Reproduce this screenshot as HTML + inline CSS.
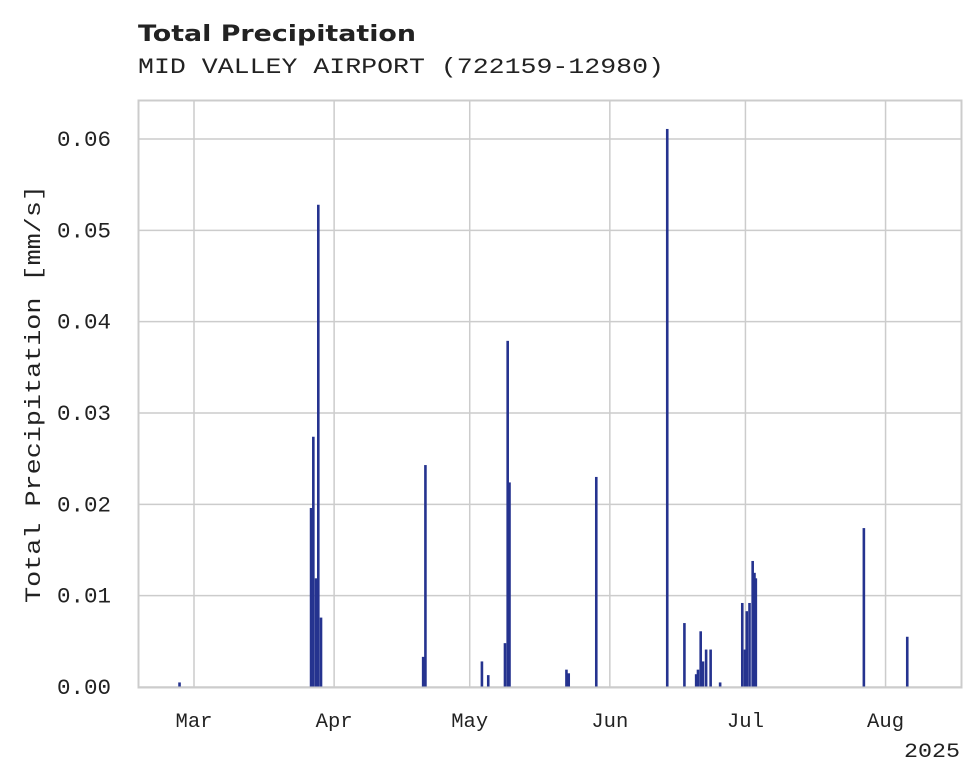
<!DOCTYPE html>
<html><head><meta charset="utf-8"><style>
html,body{margin:0;padding:0;background:#fff;}
svg{display:block;font-family:"Liberation Mono",monospace;}
</style></head><body>
<svg id="chart" width="980" height="783">
<text x="138" y="41" font-family="DejaVu Sans, sans-serif" font-weight="bold" font-size="22" fill="#222" textLength="278" lengthAdjust="spacingAndGlyphs">Total Precipitation</text>
<text x="138" y="73" font-size="22" fill="#222" textLength="526" lengthAdjust="spacingAndGlyphs">MID VALLEY AIRPORT (722159-12980)</text>
<text transform="translate(40,394) rotate(-90)" text-anchor="middle" font-size="22" fill="#222" textLength="418" lengthAdjust="spacingAndGlyphs">Total Precipitation [mm/s]</text>
<text x="960" y="757" text-anchor="end" font-size="20" fill="#222" textLength="56" lengthAdjust="spacingAndGlyphs">2025</text>
<g id="grid"></g><g id="bars"></g><g id="ticks"></g>
<rect x="138.5" y="100.5" width="823" height="587" fill="none" stroke="#ccc" stroke-width="2"/>
</svg>
<script>
const monthLabels=["Mar","Apr","May","Jun","Jul","Aug"];
const monthDays=[0,31,61,92,122,153];
const yTicks=[0,0.01,0.02,0.03,0.04,0.05,0.06];
const yTickLabels=["0.00","0.01","0.02","0.03","0.04","0.05","0.06"];
const barDays=[-3.2,25.9,26.4,27.0,27.5,28.1,50.7,51.2,63.7,65.1,68.8,69.4,69.8,82.4,82.9,89.0,104.7,108.5,111.1,111.5,112.1,112.6,113.3,114.3,116.4,121.3,121.9,122.3,122.9,123.6,124.0,124.3,148.2,157.8];
const barValues=[0.0005,0.0196,0.0274,0.0119,0.0528,0.0076,0.0033,0.0243,0.0028,0.0013,0.0048,0.0379,0.0224,0.0019,0.0015,0.0230,0.0611,0.0070,0.0014,0.0019,0.0061,0.0028,0.0041,0.0041,0.0005,0.0092,0.0041,0.0083,0.0092,0.0138,0.0125,0.0119,0.0174,0.0055];
const NS="http://www.w3.org/2000/svg";
const xs=d=>194+d*4.52;
const ys=v=>687-v*(548/0.06);
const grid=document.getElementById('grid'),bars=document.getElementById('bars'),ticks=document.getElementById('ticks');
function mk(tag,attrs,parent){const e=document.createElementNS(NS,tag);for(const k in attrs)e.setAttribute(k,attrs[k]);parent.appendChild(e);return e;}
yTicks.forEach((v,i)=>{
 const l=mk('line',{x1:139,x2:961,y1:ys(v),y2:ys(v),stroke:'#ccc','stroke-width':1.5},grid);
 
 
 const t=mk('text',{x:111,y:ys(v)+7,'text-anchor':'end','font-size':22,fill:'#222',textLength:54,lengthAdjust:'spacingAndGlyphs'},ticks);
 t.textContent=yTickLabels[i];
 
 
});
monthDays.forEach((d,i)=>{
 const l=mk('line',{x1:xs(d),x2:xs(d),y1:101,y2:687,stroke:'#ccc','stroke-width':1.5},grid);
 
 
 const t=mk('text',{x:xs(d),y:727,'text-anchor':'middle','font-size':20,fill:'#222',textLength:37,lengthAdjust:'spacingAndGlyphs'},ticks);
 t.textContent=monthLabels[i];
 
 
});
barDays.forEach((d,i)=>{
 const y=ys(barValues[i]);
 const r=mk('rect',{x:xs(d)-1.3,y:y,width:2.6,height:687-y,fill:'#25338f'},bars);
 
 
});
</script>
</body></html>
